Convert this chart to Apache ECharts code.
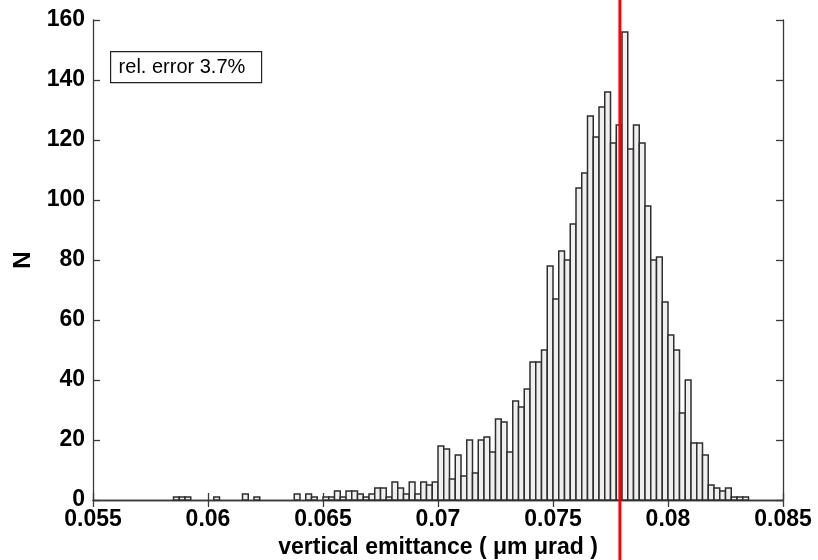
<!DOCTYPE html>
<html>
<head>
<meta charset="utf-8">
<script src="https://cdn.jsdelivr.net/npm/echarts@6/dist/echarts.min.js"></script>
<style>
html,body{margin:0;padding:0;background:#fff;}
#chart{width:818px;height:560px;}
</style>
</head>
<body>
<div id="chart"></div>
<script>
// Histogram bins: first bin starts at binStart, each bin is binWidth wide
var binStart = 0.0585;
var binWidth = 0.00025;
var counts = [
  1, 1, 1, 0, 0, 0, 0, 1, 0, 0,
  0, 0, 2, 0, 1, 0, 0, 0, 0, 0,
  0, 2, 0, 2, 1, 0, 1, 1, 3, 1,
  3, 3, 2, 1, 2, 4, 4, 1, 6, 4,
  2, 6, 2, 6, 5, 6, 18, 17, 7, 15,
  8, 20, 9, 20, 21, 16, 27, 26, 16, 33,
  31, 37, 46, 46, 50, 78, 67, 83, 80, 92,
  104, 109, 128, 121, 131, 136, 119, 125, 156, 117,
  125, 119, 98, 80, 81, 66, 55, 50, 29, 40,
  19, 19, 15, 5, 4, 3, 4, 1, 1, 1
];
var xTicks = [0.055, 0.06, 0.065, 0.07, 0.075, 0.08, 0.085];
var yTicks = [0, 20, 40, 60, 80, 100, 120, 140, 160];
var redLineX = 0.07791;
var annotation = 'rel. error 3.7%';
var xName = 'vertical emittance ( \u03bcm \u03bcrad )';
var yName = 'N';

var histData = counts.map(function (c, i) {
  var s = binStart + i * binWidth;
  return [s, s + binWidth, c];
});

var chart = echarts.init(document.getElementById('chart'), null, {renderer: 'canvas'});
var fontFam = '"Liberation Sans", Arial, Helvetica, sans-serif';
var axisColor = '#3a3a3a';
var xMin = xTicks[0], xMax = xTicks[xTicks.length - 1], xInt = xTicks[1] - xTicks[0];
var yMin = yTicks[0], yMax = yTicks[yTicks.length - 1], yInt = yTicks[1] - yTicks[0];

function fmtX(v) {
  var s = (Math.round(v * 1000) / 1000).toFixed(3);
  return s.replace(/0+$/, '').replace(/\.$/, '');
}

var commonLine = {show: true, lineStyle: {color: axisColor, width: 1.3}};
var commonTick = {show: true, inside: true, length: 7, lineStyle: {color: axisColor, width: 1.3}};

chart.setOption({
  animation: false,
  backgroundColor: '#fff',
  grid: {left: 93, right: 35, top: 20, bottom: 60, containLabel: false, outerBoundsMode: 'none'},
  xAxis: [{
    type: 'value', position: 'bottom', min: xMin, max: xMax, interval: xInt,
    axisLine: commonLine, axisTick: commonTick, splitLine: {show: false},
    axisLabel: {formatter: fmtX, color: '#000', fontSize: 23, fontWeight: 'bold', fontFamily: fontFam, margin: 8},
    name: xName, nameLocation: 'middle', nameGap: 35,
    nameTextStyle: {color: '#000', fontSize: 23, fontWeight: 'bold', fontFamily: fontFam}
  }, {
    type: 'value', position: 'top', min: xMin, max: xMax, interval: xInt,
    axisLine: commonLine, axisTick: commonTick, splitLine: {show: false},
    axisLabel: {show: false}
  }],
  yAxis: [{
    type: 'value', position: 'left', min: yMin, max: yMax, interval: yInt,
    axisLine: commonLine, axisTick: commonTick, splitLine: {show: false},
    axisLabel: {color: '#000', fontSize: 23, fontWeight: 'bold', fontFamily: fontFam, margin: 8},
    name: yName, nameLocation: 'middle', nameGap: 51,
    nameTextStyle: {color: '#000', fontSize: 24, fontWeight: 'bold', fontFamily: fontFam}
  }, {
    type: 'value', position: 'right', min: yMin, max: yMax, interval: yInt,
    axisLine: commonLine, axisTick: commonTick, splitLine: {show: false},
    axisLabel: {show: false}
  }],
  series: [{
    type: 'custom',
    xAxisIndex: 0, yAxisIndex: 0,
    data: histData,
    encode: {x: [0, 1], y: 2},
    renderItem: function (params, api) {
      var v = api.value(2);
      if (!v) return null;
      var p0 = api.coord([api.value(0), v]);
      var p1 = api.coord([api.value(1), 0]);
      return {
        type: 'rect',
        shape: {x: p0[0], y: p0[1], width: p1[0] - p0[0], height: p1[1] - p0[1]},
        style: {fill: '#efefef', stroke: '#2e2e2e', lineWidth: 1.5}
      };
    }
  }]
});

var rx = chart.convertToPixel({xAxisIndex: 0}, redLineX);
chart.setOption({
  graphic: [{
    type: 'group', left: 110, top: 51,
    children: [{
      type: 'rect', shape: {x: 0, y: 0, width: 151, height: 31},
      style: {fill: '#fff', stroke: '#222', lineWidth: 1.2}
    }, {
      type: 'text', x: 8, y: 16,
      style: {text: annotation, fontSize: 20, fontFamily: fontFam, fill: '#000', textVerticalAlign: 'middle'}
    }]
  }, {
    type: 'line', z: 100,
    shape: {x1: rx, y1: 0, x2: rx, y2: 560},
    style: {stroke: '#ff0000', lineWidth: 3}
  }]
});
</script>
</body>
</html>
